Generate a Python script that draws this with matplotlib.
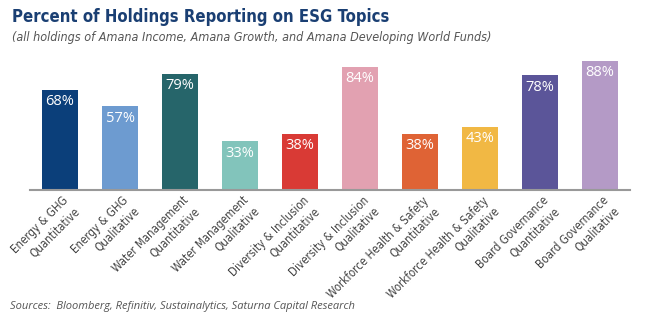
import matplotlib
matplotlib.use('Agg')
import matplotlib.pyplot as plt

# data
topics = ['Energy & GHG\nQuantitative', 'Energy & GHG\nQualitative',
          'Water Management\nQuantitative', 'Water Management\nQualitative',
          'Diversity & Inclusion\nQuantitative', 'Diversity & Inclusion\nQualitative',
          'Workforce Health & Safety\nQuantitative', 'Workforce Health & Safety\nQualitative',
          'Board Governance\nQuantitative', 'Board Governance\nQualitative']
pct = [68, 57, 79, 33, 38, 84, 38, 43, 78, 88]
colors = ['#0b3f7a', '#6d9bd0', '#26656a', '#82c4bb', '#d93a35',
          '#e2a1b1', '#df6335', '#f1b844', '#5b5599', '#b49ac6']

plt.rcParams['font.family'] = ['DejaVu Sans']
plt.rcParams['font.stretch'] = 'condensed'

fig = plt.figure(figsize=(6.5, 3.28), dpi=100)
ax = fig.add_axes([30/650, 1-190/328, 600/650, 147/328])

x = range(len(pct))
bars = ax.bar(x, pct, width=0.6, color=colors)
for b, v in zip(bars, pct):
    ax.annotate(f'{v}%', (b.get_x() + b.get_width()/2, v), xytext=(0, -8.5),
                textcoords='offset points', ha='center', va='center',
                color='white', fontsize=10.5, family=['Open Sans', 'DejaVu Sans'],
                stretch='normal')

for i, t in enumerate(topics):
    ax.text(i + 0.2, -9.5, t, rotation=45, rotation_mode='anchor',
            ha='right', va='center', multialignment='right',
            fontsize=8.3, color='#444444', clip_on=False)

ax.set_xlim(-0.5, len(pct) - 0.5)
ax.set_ylim(0, 100)
ax.set_xticks([])
ax.set_yticks([])
for s in ['top', 'right', 'left']:
    ax.spines[s].set_visible(False)
ax.spines['bottom'].set_color('#999999')
ax.spines['bottom'].set_linewidth(1.5)

fig.text(12/650, 1-17/328, 'Percent of Holdings Reporting on ESG Topics',
         fontsize=12, fontweight='bold', color='#1a3f73', va='center')
fig.text(12/650, 1-38/328,
         '(all holdings of Amana Income, Amana Growth, and Amana Developing World Funds)',
         fontsize=9, style='italic', color='#555555', va='center')
fig.text(10/650, 1-306/328,
         'Sources:  Bloomberg, Refinitiv, Sustainalytics, Saturna Capital Research',
         fontsize=8, style='italic', color='#555555', va='center',
         family=['Open Sans', 'DejaVu Sans'], stretch='normal')

fig.savefig('out.png', dpi=100)
